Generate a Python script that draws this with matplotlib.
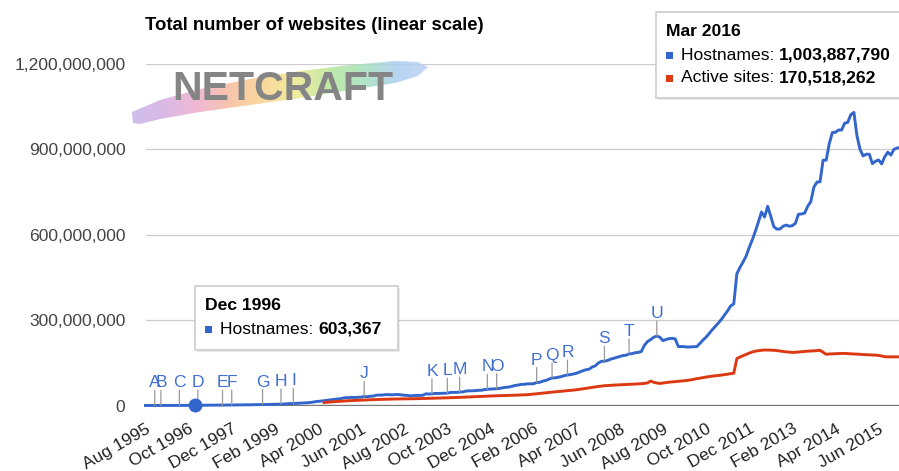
import numpy as np
import pandas as pd
import matplotlib
matplotlib.use("Agg")
import matplotlib.pyplot as plt
from matplotlib.patches import Rectangle, Polygon
from matplotlib.colors import LinearSegmentedColormap

plt.rcParams['font.family'] = ['Liberation Sans', 'DejaVu Sans']

# ---------------- data ----------------
first_month = "1995-08"
last_month = "2016-03"

# Hostnames, millions, monthly Aug 1995 .. Mar 2016
hostnames_m = [
    0.019, 0.031, 0.040, 0.057, 0.075,                                        # 1995
    0.100, 0.116, 0.145, 0.164, 0.216, 0.252, 0.300, 0.342, 0.397, 0.462, 0.525, 0.603367,  # 1996
    0.646, 0.739, 0.885, 1.002, 1.045, 1.117, 1.203, 1.270, 1.364, 1.467, 1.545, 1.682,     # 1997
    1.834, 2.011, 2.081, 2.216, 2.352, 2.411, 2.595, 2.636, 2.818, 3.157, 3.518, 3.690,     # 1998
    4.063, 4.301, 4.388, 4.690, 5.190, 6.177, 6.599, 7.078, 7.370, 8.123, 8.746, 9.560,     # 1999
    10.00, 11.16, 13.11, 14.34, 15.44, 17.12, 18.17, 19.82, 21.17, 22.28, 23.63, 25.68,     # 2000
    27.59, 27.39, 28.67, 28.20, 28.67, 29.30, 31.56, 30.78, 32.40, 33.14, 36.28, 36.46,     # 2001
    36.69, 38.44, 38.12, 37.59, 38.12, 38.76, 37.24, 35.99, 35.54, 33.65, 35.02, 35.42,     # 2002
    35.86, 35.86, 40.94, 40.44, 40.94, 42.30, 42.30, 42.80, 43.14, 43.26, 45.98, 46.07,     # 2003
    46.07, 47.17, 47.84, 50.55, 51.64, 51.60, 52.13, 53.34, 53.49, 55.54, 56.92, 57.77,     # 2004
    58.19, 59.0, 60.3, 62.3, 63.8, 64.8, 67.6, 70.4, 71.9, 74.4, 74.4, 76.2,                # 2005
    76.2, 76.6, 80.6, 81.6, 85.5, 88.2, 92.6, 96.9, 97.0, 99.4, 101.4, 105.2,               # 2006
    106.9, 108.8, 110.8, 113.7, 118.0, 122.1, 125.6, 127.5, 135.2, 139.1, 149.1, 155.2,     # 2007
    155.6, 158.2, 162.7, 165.7, 169.0, 172.3, 175.5, 176.7, 181.3, 182.2, 185.5, 186.7,     # 2008
    190.0, 212.0, 224.7, 231.5, 240.0, 244.0, 240.0, 228.0, 232.0, 235.0, 236.0, 233.8,     # 2009
    207.0, 207.3, 206.7, 205.4, 206.0, 206.7, 207.0, 218.0, 230.0, 240.0, 253.0, 266.0,     # 2010
    278, 290, 303, 318, 333, 350, 357, 463, 485, 504, 525, 555,                             # 2011
    582, 612, 645, 680, 662, 700, 665, 628, 620, 620, 630, 634,                             # 2012
    630, 632, 640, 672, 673, 676, 700, 716, 767, 785, 786, 862,                             # 2013
    862, 920, 959, 960, 968, 968, 992, 995, 1022, 1030, 947, 900,                           # 2014
    877, 883, 883, 850, 858, 863, 849, 874, 890, 880, 900, 905,                             # 2015
    906, 906, 1003.887790,                                                                  # 2016
]

# Active sites, millions, monthly Jun 2000 .. Mar 2016
active_first_month = "2000-06"
active_m = [
    10.5, 11.5, 12.5, 13.2, 14.0, 14.8, 15.6,                                   # 2000
    16.3, 16.9, 17.4, 17.9, 18.4, 18.9, 19.4, 19.8, 20.2, 20.6, 21.0, 21.4,     # 2001
    21.7, 22.0, 22.3, 22.6, 22.8, 23.0, 23.1, 23.2, 23.4, 23.6, 23.8, 24.0,     # 2002
    24.2, 24.5, 24.8, 25.1, 25.4, 25.7, 26.0, 26.3, 26.6, 27.0, 27.4, 27.8,     # 2003
    28.2, 28.6, 29.0, 29.5, 30.0, 30.5, 31.0, 31.5, 32.0, 32.5, 33.0, 33.4,     # 2004
    33.8, 34.1, 34.4, 34.7, 35.0, 35.4, 35.8, 36.2, 36.6, 37.0, 37.5, 38.0,     # 2005
    39.0, 40.0, 41.2, 42.4, 43.6, 44.8, 46.0, 47.0, 48.0, 49.0, 50.0, 51.0,     # 2006
    52.0, 53.0, 54.2, 55.5, 57.0, 58.5, 60.2, 62.0, 63.8, 65.3, 66.8, 68.2,     # 2007
    69.5, 70.3, 71.0, 71.6, 72.2, 72.8, 73.3, 73.8, 74.3, 74.8, 75.3, 75.8,     # 2008
    76.5, 77.5, 79.5, 86.0, 81.5, 79.0, 77.5, 79.0, 80.5, 82.0, 83.0, 84.0,     # 2009
    85.0, 86.0, 87.0, 88.5, 90.0, 92.0, 94.5, 96.0, 98.0, 100.0, 101.5, 103.0,  # 2010
    104.5, 105.5, 107.0, 108.5, 110.0, 112.0, 113.5, 165.0, 170.0, 175.0, 179.5, 184.0,  # 2011
    188.0, 191.0, 192.5, 194.0, 195.0, 195.0, 194.5, 194.0, 193.0, 191.5, 190.0, 188.5,  # 2012
    187.5, 186.5, 187.0, 188.0, 189.0, 190.0, 191.0, 191.5, 192.0, 193.0, 194.0, 187.0,  # 2013
    180.0, 181.0, 181.5, 182.0, 182.5, 183.0, 183.0, 182.5, 181.5, 181.0, 180.5, 180.0,  # 2014
    179.0, 178.5, 178.0, 177.5, 177.0, 176.0, 174.0, 171.5, 171.0, 171.0, 171.0, 171.0,  # 2015
    171.0, 170.8, 170.518262,                                                   # 2016
]

xtick_months = ["1995-08", "1996-10", "1997-12", "1999-02", "2000-04", "2001-06",
                "2002-08", "2003-10", "2004-12", "2006-02", "2007-04", "2008-06",
                "2009-08", "2010-10", "2011-12", "2013-02", "2014-04", "2015-06"]
xtick_labels = ["Aug 1995", "Oct 1996", "Dec 1997", "Feb 1999", "Apr 2000", "Jun 2001",
                "Aug 2002", "Oct 2003", "Dec 2004", "Feb 2006", "Apr 2007", "Jun 2008",
                "Aug 2009", "Oct 2010", "Dec 2011", "Feb 2013", "Apr 2014", "Jun 2015"]
ytick_values = [0, 300e6, 600e6, 900e6, 1200e6]
ytick_labels = ["0", "300,000,000", "600,000,000", "900,000,000", "1,200,000,000"]

event_letters = list("ABCDEFGHIJKLMNOPQRSTU")
event_months = ["1995-11", "1996-01", "1996-07", "1997-01", "1997-09", "1997-12",
                "1998-10", "1999-04", "1999-08", "2001-07", "2003-05", "2003-10",
                "2004-02", "2004-11", "2005-02", "2006-03", "2006-08", "2007-01",
                "2008-01", "2008-09", "2009-06"]

tip1_title = "Mar 2016"
tip1_rows = [("Hostnames: ", "1,003,887,790", "#3366cc"),
             ("Active sites: ", "170,518,262", "#dc3912")]
tip2_title = "Dec 1996"
tip2_month = "1996-12"
tip2_rows = [("Hostnames: ", "603,367", "#3366cc")]

BLUE = "#3366cc"
RED = "#dc3912"

# ---------------- layout ----------------
W, H, DPI = 899, 471, 100
px_month = 3.08
x0_px = 145.5
base_px = 405.5
top_px = 64.0
xmax = 250

months = pd.period_range(first_month, last_month, freq="M")
idx = {str(p): i for i, p in enumerate(months)}
x_host = np.arange(len(hostnames_m))
host = np.array(hostnames_m) * 1e6
a0 = idx[active_first_month]
x_act = np.arange(a0, a0 + len(active_m))
act = np.array(active_m) * 1e6

fig = plt.figure(figsize=(W / DPI, H / DPI), dpi=DPI)
fig.patch.set_facecolor("white")
ax = fig.add_axes([x0_px / W, (H - base_px) / H, xmax * px_month / W, (base_px - top_px) / H])
ax.set_xlim(0, xmax)
ax.set_ylim(0, 1.2e9)
ax.patch.set_alpha(0)
for s in ax.spines.values():
    s.set_visible(False)

for yv in ytick_values[1:]:
    ax.axhline(yv, color="#cccccc", lw=0.9, zorder=0.5)
ax.axhline(0, color="#777777", lw=1.7, zorder=1.5)

ax.plot(x_host, host, color=BLUE, lw=2.1, zorder=3, clip_on=False, solid_joinstyle="round")
ax.plot(x_act, act, color=RED, lw=2.1, zorder=3, clip_on=False, solid_joinstyle="round")

ax.set_yticks(ytick_values)
ax.set_yticklabels(ytick_labels)
ax.tick_params(axis="y", length=0, pad=14.5, labelsize=12.6, labelcolor="#444444")
ax.set_xticks([idx[m] for m in xtick_months])
ax.set_xticklabels(xtick_labels, rotation=30, ha="right", va="top", rotation_mode="anchor")
ax.tick_params(axis="x", length=0, pad=11.5, labelsize=12.5, labelcolor="#222222")

# event annotations
for letter, mstr in zip(event_letters, event_months):
    i = idx[mstr]
    v = host[i]
    ax.annotate("", xy=(i, v), xytext=(0, 10.8), textcoords="offset points",
                arrowprops=dict(arrowstyle="-", color="#999999", lw=0.9, shrinkA=0, shrinkB=0),
                zorder=4, annotation_clip=False)
    ax.annotate(letter, xy=(i, v), xytext=(0, 13.0), textcoords="offset points",
                ha="center", va="baseline", color="#4170d0", fontsize=12.6, zorder=4,
                annotation_clip=False)

# focus points
i2 = idx[tip2_month]
ax.plot([i2], [host[i2]], "o", ms=9, color=BLUE, zorder=6, clip_on=False)
ax.plot([len(host) - 1], [host[-1]], "o", ms=9, color=BLUE, zorder=6, clip_on=False)
ax.plot([x_act[-1]], [act[-1]], "o", ms=9, color=RED, zorder=6, clip_on=False)

fig.text(145 / W, 1 - 25.5 / H, "Total number of websites (linear scale)",
         fontsize=13.3, fontweight="bold", color="#000000", ha="left", va="center")

# ---------------- overlay (pixel coordinates) ----------------
ov = fig.add_axes([0, 0, 1, 1], zorder=5)
ov.patch.set_alpha(0)
ov.axis("off")

# logo swoosh
logo_cmap = LinearSegmentedColormap.from_list(
    "logo", ["#c6b2e8", "#d4aee2", "#eeaccb", "#f6bc9c", "#f8d48a", "#eee88c",
             "#b4e69c", "#a4e0bc", "#aacdf0", "#c0d0f6"])
grad = np.linspace(0, 1, 256)[None, :]
im = ov.imshow(grad, cmap=logo_cmap, extent=(130, 432, 130, 55), aspect="auto",
               alpha=0.85, zorder=1, interpolation="bilinear")
swoosh = [(132, 112), (160, 100), (200, 89), (250, 79), (300, 71), (350, 65),
          (395, 61), (418, 62), (428, 67), (418, 76), (395, 83), (350, 90),
          (300, 98), (250, 105), (200, 112), (160, 119), (140, 124), (133, 123)]
poly = Polygon(swoosh, closed=True, facecolor="none", edgecolor="none",
               transform=ov.transData)
ov.add_patch(poly)
im.set_clip_path(poly)
ov.text(172, 100, "NETCRAFT", fontsize=29.5, fontweight="bold", color="#858585",
        ha="left", va="baseline", zorder=2)


def tooltip(x, y, w, h, title, rows):
    ov.add_patch(Rectangle((x + 1.5, y + 1.5), w, h, facecolor="#000000", alpha=0.08,
                           edgecolor="none", zorder=9))
    ov.add_patch(Rectangle((x, y), w, h, facecolor="white", edgecolor="#cccccc",
                           lw=1.2, zorder=10))
    ov.text(x + 10, y + 20, title, fontsize=12.6, fontweight="bold", color="#000000",
            ha="left", va="center", zorder=11)
    for k, (lab, val, col) in enumerate(rows):
        yc = y + 43 + 23 * k
        ov.add_patch(Rectangle((x + 10, yc - 3.5), 7, 7, facecolor=col, edgecolor="none",
                               zorder=11))
        t = ov.text(x + 25, yc, lab, fontsize=12.6, color="#000000", ha="left",
                    va="center", zorder=11)
        ov.annotate(val, xy=(1, 0), xycoords=t, fontsize=12.6, fontweight="bold",
                    color="#000000", ha="left", va="bottom", zorder=11)


tooltip(656, 12, 260, 86, tip1_title, tip1_rows)
tooltip(195, 286, 203, 64, tip2_title, tip2_rows)

ov.set_xlim(0, W)
ov.set_ylim(H, 0)

fig.savefig("out.png", dpi=DPI)
